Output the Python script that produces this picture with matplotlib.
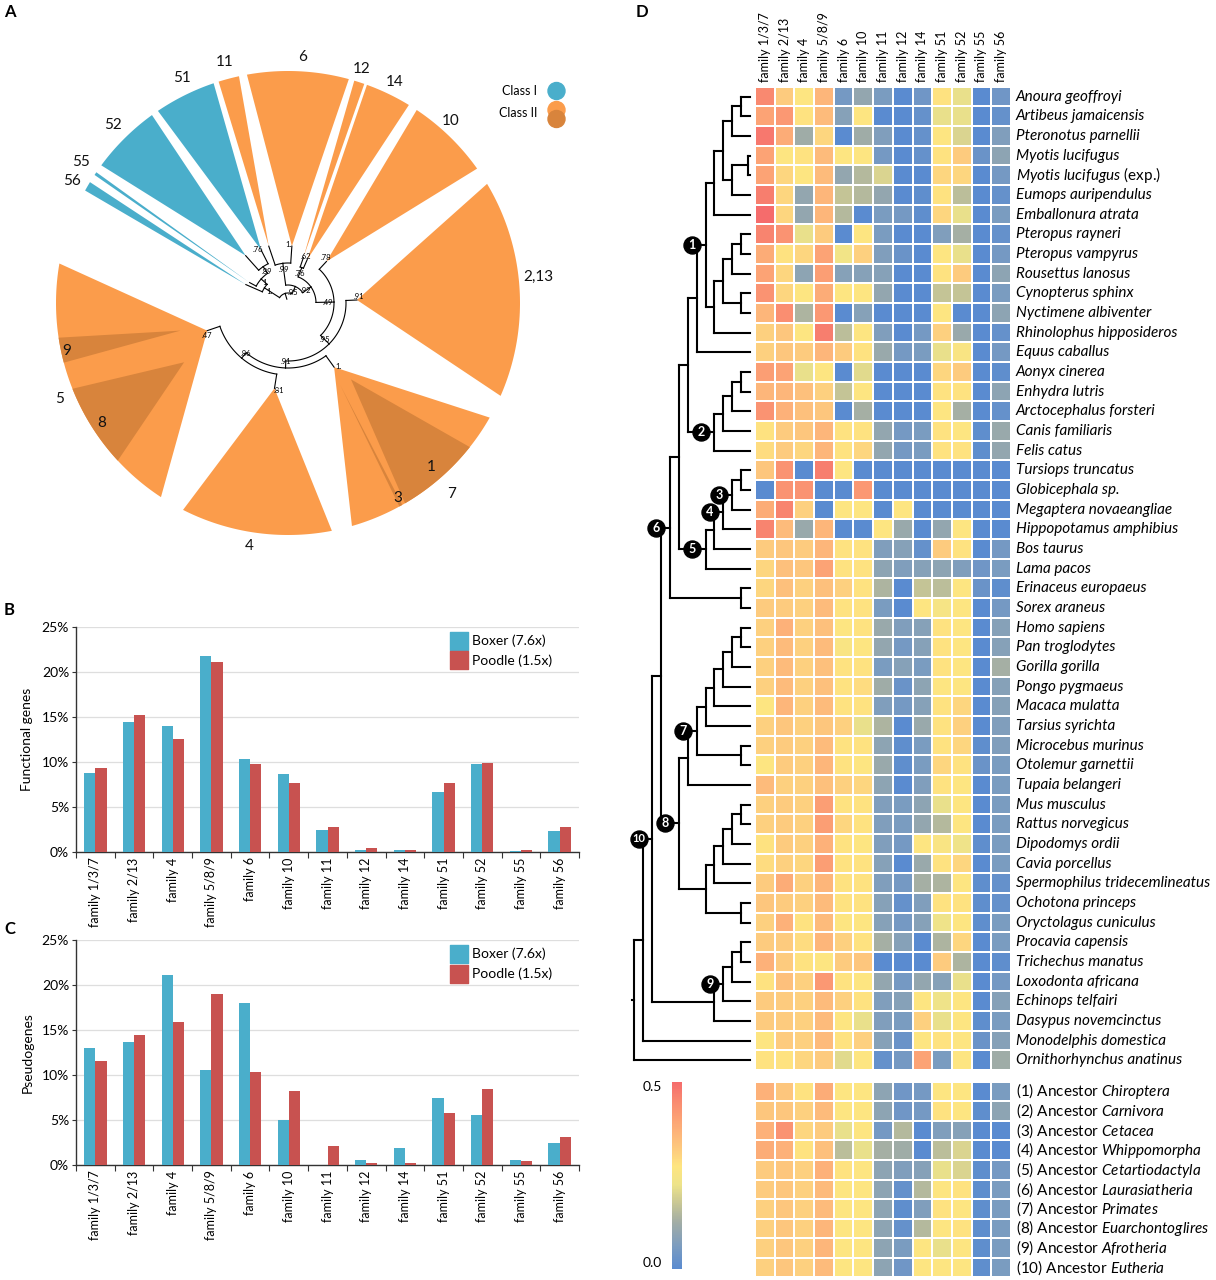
import numpy as np
import matplotlib
matplotlib.use("Agg")
import matplotlib.pyplot as plt
from matplotlib.colors import LinearSegmentedColormap
from matplotlib.patches import Polygon, Circle
from matplotlib.cm import ScalarMappable

plt.rcParams['font.family'] = ['Lato', 'DejaVu Sans']
plt.rcParams['mathtext.fontset'] = 'custom'
plt.rcParams['mathtext.rm'] = 'Lato'
plt.rcParams['mathtext.it'] = 'Lato:italic'

W, H = 1216, 1280

# ---------------- panel A data (wedges of the gene tree) ----------------
wedge_class = ["I", "I", "I", "I", "II", "II", "II", "II", "II", "II", "II", "II", "II"]
wedge_start = [148.6, 145.7, 125.9, 108.7, 102.2, 74.8, 70.8, 58.6, 35.4, -23.6, -74.0, -116.9, 170.2]
wedge_end = [151.0, 146.5, 143.6, 124.1, 107.4, 100.2, 73.4, 70.1, 56.3, 30.9, -29.6, -79.1, 236.8]
apex_angle = [156.4, 152.0, 131.8, 116.9, 108.7, 86.1, 71.3, 66.1, 47.2, 2.5, -54.3, -99.0, -161.1]
apex_radius = [46, 43.5, 63.5, 59.5, 60, 57, 48, 47.5, 56.6, 69, 79, 86.4, 85.4]
tip_support = ["", "", "", ".76", "", "1.", "", ".62", ".78", ".91", "1.", ".81", ".47"]

# darker sub-clades inside the orange wedges
sub_start = [-59.7, -61.3, 201.7, 188.6]
sub_end = [-38.4, -60.5, 222.8, 194.9]
sub_apex_angle = [-50.5, -57.5, 209.7, 194.4]
sub_apex_radius = [99, 97, 119.6, 111]

label_text = ["56", "55", "52", "51", "11", "6", "12", "14", "10", "2,13", "1", "7", "3", "4", "9", "5", "8"]
label_angle = [150.5, 145.8, 134.5, 115.1, 104.8, 86.6, 72.5, 64.2, 48.3, 5.9, -48.9, -49.5, -60.7, -99, 192.2, 202.8, 212.8]
label_radius = [248, 250, 250, 249, 249, 246.6, 245, 246, 244, 252, 218, 251.5, 224, 246, 226, 248, 222]

# inner tree: (radius, support, children), tips are wedge indices
tree_a = (10, "", [(28, "1.", [0, (36, "1.", [1, (44, ".89", [2, 3])])]),
                   (18, ".95", [(40, ".99", [4, 5]),
                                (28, ".92", [(38, ".76", [6, 7]),
                                             (46, ".49", [8, (58, ".95", [9, (65, ".91", [10, (72, ".86", [11, 12])])])])])])])

# ---------------- panels B and C data ----------------
families = ["family 1/3/7", "family 2/13", "family 4", "family 5/8/9", "family 6", "family 10",
            "family 11", "family 12", "family 14", "family 51", "family 52", "family 55", "family 56"]
boxer_functional = [8.8, 14.4, 14.0, 21.7, 10.3, 8.6, 2.4, 0.15, 0.15, 6.6, 9.7, 0.07, 2.3]
poodle_functional = [9.3, 15.2, 12.5, 21.1, 9.8, 7.6, 2.7, 0.4, 0.2, 7.6, 9.85, 0.2, 2.7]
boxer_pseudo = [13.0, 13.7, 21.1, 10.6, 18.0, 5.0, 0.0, 0.6, 1.85, 7.4, 5.6, 0.6, 2.45]
poodle_pseudo = [11.6, 14.45, 15.85, 18.95, 10.35, 8.2, 2.1, 0.22, 0.22, 5.8, 8.4, 0.4, 3.1]

# ---------------- panel D data ----------------
species = ["Anoura geoffroyi", "Artibeus jamaicensis", "Pteronotus parnellii", "Myotis lucifugus",
           "Myotis lucifugus (exp.)", "Eumops auripendulus", "Emballonura atrata", "Pteropus rayneri",
           "Pteropus vampyrus", "Rousettus lanosus", "Cynopterus sphinx", "Nyctimene albiventer",
           "Rhinolophus hipposideros", "Equus caballus", "Aonyx cinerea", "Enhydra lutris",
           "Arctocephalus forsteri", "Canis familiaris", "Felis catus", "Tursiops truncatus",
           "Globicephala sp.", "Megaptera novaeangliae", "Hippopotamus amphibius", "Bos taurus",
           "Lama pacos", "Erinaceus europaeus", "Sorex araneus", "Homo sapiens", "Pan troglodytes",
           "Gorilla gorilla", "Pongo pygmaeus", "Macaca mulatta", "Tarsius syrichta", "Microcebus murinus",
           "Otolemur garnettii", "Tupaia belangeri", "Mus musculus", "Rattus norvegicus", "Dipodomys ordii",
           "Cavia porcellus", "Spermophilus tridecemlineatus", "Ochotona princeps", "Oryctolagus cuniculus",
           "Procavia capensis", "Trichechus manatus", "Loxodonta africana", "Echinops telfairi",
           "Dasypus novemcinctus", "Monodelphis domestica", "Ornithorhynchus anatinus"]

species_values = [
    [0.45, 0.32, 0.27, 0.36, 0.05, 0.10, 0.06, 0.00, 0.04, 0.28, 0.22, 0.00, 0.04],
    [0.40, 0.42, 0.28, 0.35, 0.08, 0.27, 0.00, 0.00, 0.02, 0.22, 0.22, 0.00, 0.02],
    [0.48, 0.38, 0.12, 0.30, 0.00, 0.12, 0.07, 0.00, 0.02, 0.27, 0.20, 0.00, 0.07],
    [0.40, 0.27, 0.28, 0.35, 0.27, 0.27, 0.05, 0.00, 0.02, 0.28, 0.32, 0.03, 0.09],
    [0.40, 0.30, 0.27, 0.35, 0.10, 0.15, 0.20, 0.00, 0.00, 0.30, 0.30, 0.00, 0.05],
    [0.47, 0.30, 0.10, 0.36, 0.17, 0.15, 0.10, 0.00, 0.01, 0.28, 0.16, 0.00, 0.02],
    [0.50, 0.30, 0.10, 0.36, 0.15, 0.00, 0.06, 0.05, 0.01, 0.30, 0.22, 0.00, 0.06],
    [0.46, 0.43, 0.22, 0.32, 0.00, 0.27, 0.06, 0.00, 0.00, 0.07, 0.13, 0.00, 0.02],
    [0.38, 0.28, 0.30, 0.40, 0.24, 0.31, 0.07, 0.03, 0.00, 0.27, 0.22, 0.00, 0.05],
    [0.40, 0.30, 0.09, 0.41, 0.08, 0.08, 0.08, 0.00, 0.00, 0.28, 0.32, 0.00, 0.09],
    [0.43, 0.30, 0.27, 0.38, 0.27, 0.27, 0.10, 0.00, 0.00, 0.17, 0.17, 0.00, 0.06],
    [0.36, 0.44, 0.14, 0.42, 0.00, 0.08, 0.00, 0.00, 0.00, 0.27, 0.00, 0.00, 0.09],
    [0.31, 0.33, 0.27, 0.47, 0.16, 0.27, 0.07, 0.00, 0.05, 0.31, 0.11, 0.00, 0.02],
    [0.31, 0.33, 0.32, 0.36, 0.32, 0.28, 0.11, 0.05, 0.06, 0.22, 0.26, 0.00, 0.05],
    [0.41, 0.40, 0.22, 0.27, 0.00, 0.21, 0.00, 0.00, 0.00, 0.30, 0.32, 0.00, 0.01],
    [0.36, 0.36, 0.34, 0.31, 0.17, 0.27, 0.00, 0.00, 0.00, 0.28, 0.28, 0.00, 0.09],
    [0.43, 0.37, 0.34, 0.33, 0.00, 0.13, 0.00, 0.00, 0.00, 0.27, 0.13, 0.00, 0.02],
    [0.28, 0.32, 0.33, 0.36, 0.28, 0.28, 0.10, 0.05, 0.06, 0.28, 0.27, 0.01, 0.11],
    [0.29, 0.32, 0.30, 0.36, 0.28, 0.30, 0.10, 0.05, 0.06, 0.28, 0.28, 0.01, 0.10],
    [0.33, 0.43, 0.00, 0.47, 0.27, 0.00, 0.00, 0.00, 0.00, 0.00, 0.00, 0.00, 0.00],
    [0.00, 0.43, 0.43, 0.00, 0.00, 0.42, 0.00, 0.00, 0.00, 0.00, 0.00, 0.00, 0.00],
    [0.38, 0.46, 0.31, 0.00, 0.27, 0.27, 0.00, 0.27, 0.00, 0.00, 0.00, 0.00, 0.00],
    [0.46, 0.35, 0.11, 0.36, 0.00, 0.00, 0.27, 0.11, 0.00, 0.10, 0.27, 0.00, 0.00],
    [0.32, 0.33, 0.32, 0.36, 0.28, 0.28, 0.07, 0.08, 0.02, 0.32, 0.28, 0.00, 0.05],
    [0.30, 0.34, 0.33, 0.40, 0.28, 0.28, 0.09, 0.07, 0.08, 0.09, 0.07, 0.04, 0.06],
    [0.30, 0.34, 0.31, 0.34, 0.31, 0.28, 0.14, 0.00, 0.17, 0.16, 0.27, 0.03, 0.01],
    [0.32, 0.32, 0.31, 0.35, 0.28, 0.28, 0.06, 0.00, 0.27, 0.25, 0.27, 0.00, 0.05],
    [0.31, 0.37, 0.31, 0.34, 0.27, 0.28, 0.11, 0.07, 0.08, 0.28, 0.27, 0.00, 0.08],
    [0.31, 0.35, 0.31, 0.35, 0.26, 0.27, 0.10, 0.05, 0.08, 0.28, 0.27, 0.00, 0.08],
    [0.31, 0.35, 0.31, 0.34, 0.28, 0.28, 0.06, 0.08, 0.06, 0.28, 0.27, 0.00, 0.13],
    [0.31, 0.35, 0.31, 0.34, 0.28, 0.29, 0.12, 0.03, 0.09, 0.27, 0.27, 0.00, 0.08],
    [0.27, 0.36, 0.31, 0.35, 0.28, 0.28, 0.07, 0.05, 0.08, 0.28, 0.30, 0.00, 0.08],
    [0.31, 0.33, 0.31, 0.33, 0.31, 0.22, 0.14, 0.00, 0.11, 0.28, 0.31, 0.00, 0.07],
    [0.31, 0.32, 0.31, 0.35, 0.28, 0.28, 0.09, 0.01, 0.06, 0.28, 0.30, 0.01, 0.07],
    [0.27, 0.32, 0.31, 0.36, 0.28, 0.27, 0.11, 0.01, 0.06, 0.30, 0.28, 0.03, 0.06],
    [0.35, 0.31, 0.31, 0.34, 0.31, 0.30, 0.09, 0.00, 0.07, 0.28, 0.27, 0.00, 0.06],
    [0.31, 0.32, 0.31, 0.41, 0.28, 0.28, 0.07, 0.06, 0.09, 0.22, 0.27, 0.00, 0.06],
    [0.31, 0.32, 0.31, 0.41, 0.30, 0.28, 0.07, 0.06, 0.10, 0.15, 0.27, 0.00, 0.06],
    [0.28, 0.32, 0.31, 0.37, 0.28, 0.27, 0.07, 0.05, 0.27, 0.26, 0.23, 0.01, 0.06],
    [0.29, 0.31, 0.30, 0.41, 0.28, 0.28, 0.08, 0.00, 0.11, 0.28, 0.30, 0.00, 0.06],
    [0.32, 0.38, 0.31, 0.36, 0.28, 0.28, 0.07, 0.05, 0.13, 0.14, 0.27, 0.01, 0.02],
    [0.33, 0.32, 0.31, 0.35, 0.28, 0.28, 0.08, 0.02, 0.07, 0.28, 0.28, 0.01, 0.02],
    [0.31, 0.37, 0.28, 0.35, 0.27, 0.27, 0.08, 0.05, 0.08, 0.23, 0.27, 0.01, 0.06],
    [0.32, 0.32, 0.29, 0.36, 0.31, 0.28, 0.13, 0.08, 0.00, 0.14, 0.30, 0.00, 0.06],
    [0.37, 0.32, 0.28, 0.27, 0.32, 0.33, 0.00, 0.00, 0.00, 0.32, 0.14, 0.00, 0.01],
    [0.28, 0.34, 0.31, 0.42, 0.28, 0.27, 0.10, 0.05, 0.10, 0.08, 0.22, 0.00, 0.05],
    [0.32, 0.32, 0.31, 0.35, 0.31, 0.28, 0.07, 0.08, 0.27, 0.23, 0.27, 0.00, 0.08],
    [0.32, 0.32, 0.31, 0.35, 0.27, 0.22, 0.07, 0.06, 0.31, 0.22, 0.27, 0.01, 0.06],
    [0.27, 0.32, 0.31, 0.35, 0.28, 0.31, 0.08, 0.03, 0.27, 0.28, 0.27, 0.03, 0.08],
    [0.28, 0.28, 0.30, 0.32, 0.21, 0.27, 0.02, 0.05, 0.40, 0.06, 0.27, 0.00, 0.12],
]

ancestors = ["Chiroptera", "Carnivora", "Cetacea", "Whippomorpha", "Cetartiodactyla",
             "Laurasiatheria", "Primates", "Euarchontoglires", "Afrotheria", "Eutheria"]
ancestor_values = [
    [0.37, 0.33, 0.28, 0.38, 0.27, 0.27, 0.09, 0.04, 0.05, 0.27, 0.27, 0.00, 0.06],
    [0.33, 0.33, 0.31, 0.35, 0.27, 0.27, 0.09, 0.04, 0.05, 0.28, 0.27, 0.01, 0.09],
    [0.37, 0.43, 0.30, 0.32, 0.22, 0.27, 0.05, 0.15, 0.00, 0.07, 0.08, 0.00, 0.00],
    [0.38, 0.37, 0.28, 0.34, 0.16, 0.22, 0.13, 0.12, 0.00, 0.16, 0.20, 0.00, 0.00],
    [0.32, 0.33, 0.31, 0.37, 0.28, 0.27, 0.09, 0.07, 0.08, 0.22, 0.20, 0.01, 0.05],
    [0.32, 0.33, 0.31, 0.35, 0.27, 0.27, 0.09, 0.02, 0.15, 0.27, 0.28, 0.01, 0.06],
    [0.31, 0.33, 0.31, 0.35, 0.27, 0.27, 0.09, 0.01, 0.07, 0.28, 0.27, 0.01, 0.06],
    [0.31, 0.33, 0.31, 0.36, 0.27, 0.27, 0.09, 0.02, 0.15, 0.27, 0.28, 0.01, 0.06],
    [0.31, 0.33, 0.31, 0.36, 0.27, 0.27, 0.09, 0.06, 0.27, 0.22, 0.27, 0.01, 0.06],
    [0.31, 0.33, 0.31, 0.35, 0.27, 0.27, 0.09, 0.04, 0.27, 0.27, 0.27, 0.01, 0.06],
]

# species tree: (level, left, right[, ancestor number])
yango = (4, (3, (2, (1, "Anoura geoffroyi", "Artibeus jamaicensis"), "Pteronotus parnellii"),
             (2, (0.2, "Myotis lucifugus", "Myotis lucifugus (exp.)"), "Eumops auripendulus")),
         "Emballonura atrata")
yinpter = (4, (3, (2, (1, "Pteropus rayneri", "Pteropus vampyrus"), "Rousettus lanosus"),
               (1, "Cynopterus sphinx", "Nyctimene albiventer")), "Rhinolophus hipposideros")
chiroptera = (5, yango, yinpter, 1)
carnivora = (4, (3, (2, (1, "Aonyx cinerea", "Enhydra lutris"), "Arctocephalus forsteri"),
                 "Canis familiaris"), "Felis catus", 2)
cetacea = (2, (1, "Tursiops truncatus", "Globicephala sp."), "Megaptera novaeangliae", 3)
whippo = (3, cetacea, "Hippopotamus amphibius", 4)
cetart = (5, (4, whippo, "Bos taurus"), "Lama pacos", 5)
scrot = (8, (7, (6, chiroptera, "Equus caballus"), carnivora), cetart)
laura = (9, scrot, (1, "Erinaceus europaeus", "Sorex araneus"), 6)
primates = (6, (5, (4, (3, (2, (1, "Homo sapiens", "Pan troglodytes"), "Gorilla gorilla"),
                        "Pongo pygmaeus"), "Macaca mulatta"), "Tarsius syrichta"),
            (1, "Microcebus murinus", "Otolemur garnettii"), 7)
glires = (5, (4, (3, (2, (1, "Mus musculus", "Rattus norvegicus"), "Dipodomys ordii"),
                  "Cavia porcellus"), "Spermophilus tridecemlineatus"),
          (1, "Ochotona princeps", "Oryctolagus cuniculus"))
euarch = (8, (7, primates, "Tupaia belangeri"), glires, 8)
afro = (3, (2, (1, "Procavia capensis", "Trichechus manatus"), "Loxodonta africana"), "Echinops telfairi", 9)
eutheria = (11, (10, laura, euarch), (4, afro, "Dasypus novemcinctus"), 10)
tree_d = (13, (12, eutheria, "Monodelphis domestica"), "Ornithorhynchus anatinus")

blue = "#4AAECB"
orange = "#FB9C4B"
dark_orange = "#D8843C"
red = "#C85250"

fig = plt.figure(figsize=(W / 100, H / 100), dpi=100)


def px_axes(x0, y0, x1, y1):
    return fig.add_axes([x0 / W, 1 - y1 / H, (x1 - x0) / W, (y1 - y0) / H])


# ================= A =================
CX, CY, R = 288, 303, 232
axA = px_axes(0, 0, 600, 600)
axA.set_xlim(0, 600)
axA.set_ylim(600, 0)
axA.axis('off')


def pxy(theta, r):
    t = np.radians(theta)
    return CX + r * np.cos(t), CY - r * np.sin(t)


def wedge(theta1, theta2, a_ang, a_rad, color):
    ts = np.linspace(theta1, theta2, 60)
    xs, ys = pxy(ts, R)
    ax0, ay0 = pxy(a_ang, a_rad)
    pts = [(ax0, ay0)] + list(zip(xs, ys))
    axA.add_patch(Polygon(pts, closed=True, facecolor=color, edgecolor='none'))


for i in range(len(wedge_start)):
    c = blue if wedge_class[i] == "I" else orange
    wedge(wedge_start[i], wedge_end[i], apex_angle[i], apex_radius[i], c)
for i in range(len(sub_start)):
    wedge(sub_start[i], sub_end[i], sub_apex_angle[i], sub_apex_radius[i], dark_orange)

for txt, a, r in zip(label_text, label_angle, label_radius):
    x, y = pxy(a, r)
    axA.text(x, y, txt, fontsize=11, ha='center', va='center', color='#111111')


def draw_tree_a(node):
    if isinstance(node, int):
        if tip_support[node]:
            x, y = pxy(apex_angle[node] + 3, apex_radius[node] + 2)
            axA.text(x, y, tip_support[node], fontsize=5.5, ha='center', va='center')
        return apex_angle[node], apex_radius[node]
    r, sup, kids = node
    pos = [draw_tree_a(k) for k in kids]
    th = np.mean([p[0] for p in pos])
    for tc, rc in pos:
        ts = np.linspace(th, tc, 40)
        xs, ys = pxy(ts, r)
        axA.plot(xs, ys, color='black', lw=0.8)
        x0, y0 = pxy(tc, r)
        x1, y1 = pxy(tc, rc)
        axA.plot([x0, x1], [y0, y1], color='black', lw=0.8)
    if sup:
        x, y = pxy(th, r - 6)
        axA.text(x, y, sup, fontsize=5.5, ha='center', va='center')
    return th, r


root_th, root_r = draw_tree_a(tree_a)
x0, y0 = pxy(root_th, root_r)
x1, y1 = pxy(root_th, 4)
axA.plot([x0, x1], [y0, y1], color='black', lw=0.8)

# legend
axA.add_patch(Circle((556.5, 91), 8.5, color=blue))
axA.add_patch(Circle((556.5, 110), 8.5, color=orange))
axA.add_patch(Circle((556.5, 119), 8.5, color=dark_orange))
axA.text(537, 91, "Class I", fontsize=9, ha='right', va='center')
axA.text(537, 113, "Class II", fontsize=9, ha='right', va='center')


# ================= B / C =================
def bar_panel(y_top, y_bot, boxer, poodle, ylabel):
    ax = px_axes(76, y_top, 579, y_bot)
    x = np.arange(len(families))
    ax.bar(x - 0.145, boxer, width=0.29, color=blue, zorder=3)
    ax.bar(x + 0.145, poodle, width=0.29, color=red, zorder=3)
    ax.set_xlim(-0.5, len(families) - 0.5)
    ax.set_ylim(0, 25)
    ax.set_yticks([0, 5, 10, 15, 20, 25])
    ax.set_yticklabels(["%d%%" % v for v in [0, 5, 10, 15, 20, 25]], fontsize=10)
    ax.yaxis.grid(True, color='#DEDEDE', lw=0.9, zorder=0)
    ax.set_xticks(np.arange(len(families) + 1) - 0.5)
    ax.set_xticklabels([])
    ax.set_xticks(x, minor=True)
    ax.set_xticklabels(families, minor=True, rotation=90, fontsize=9)
    ax.tick_params(axis='x', which='minor', length=0, pad=4)
    ax.tick_params(axis='x', which='major', length=4, width=0.8, color='#333333')
    ax.tick_params(axis='y', length=3, width=0.8, color='#333333', pad=2)
    for s in ['top', 'right']:
        ax.spines[s].set_visible(False)
    for s in ['left', 'bottom']:
        ax.spines[s].set_color('#333333')
        ax.spines[s].set_linewidth(1.0)
    ax.set_ylabel(ylabel, fontsize=10, labelpad=6)
    # legend
    for k, (c, lab) in enumerate([(blue, "Boxer (7.6x)"), (red, "Poodle (1.5x)")]):
        yy = 0.938 - k * 0.088
        ax.scatter([0.761], [yy], s=150, marker='s', color=c, transform=ax.transAxes,
                   clip_on=False, zorder=5)
        ax.text(0.787, yy, lab, transform=ax.transAxes, fontsize=10, va='center', ha='left')
    return ax


bar_panel(626.7, 851.7, boxer_functional, poodle_functional, "Functional genes")
bar_panel(940, 1165, boxer_pseudo, poodle_pseudo, "Pseudogenes")

# ================= D =================
cmap = LinearSegmentedColormap.from_list("ratio", [
    (0.00, "#5A8BD0"), (0.12, "#7B9CC0"), (0.25, "#A2ADA5"), (0.35, "#C7C695"),
    (0.45, "#EDE38A"), (0.55, "#FEE580"), (0.62, "#FDD07F"), (0.70, "#FDBB7B"),
    (0.80, "#FCA375"), (0.90, "#F98A70"), (1.00, "#F56C6C")])

n_sp = len(species)
axH = px_axes(755, 86.7, 1011, 1070)
axH.pcolormesh(np.array(species_values), cmap=cmap, vmin=0, vmax=0.5,
               edgecolors='white', linewidth=1.1)
axH.set_xlim(0, len(families))
axH.set_ylim(n_sp, 0)
axH.axis('off')
for j, fam in enumerate(families):
    axH.text(j + 0.5, -0.25, fam, rotation=90, ha='center', va='bottom', fontsize=9)
for i, sp in enumerate(species):
    if sp.endswith("(exp.)"):
        axH.text(13.25, i + 0.5, r"$\mathit{Myotis\ lucifugus}$ (exp.)", fontsize=11, va='center', ha='left')
    else:
        axH.text(13.25, i + 0.5, sp, fontsize=11, fontstyle='italic', va='center', ha='left')

axN = px_axes(755, 1081.7, 1011, 1277.3)
axN.pcolormesh(np.array(ancestor_values), cmap=cmap, vmin=0, vmax=0.5,
               edgecolors='white', linewidth=1.1)
axN.set_xlim(0, len(families))
axN.set_ylim(len(ancestors), 0)
axN.axis('off')
for i, name in enumerate(ancestors):
    axN.text(13.25, i + 0.5, r"(%d) Ancestor $\mathit{%s}$" % (i + 1, name), fontsize=11,
             va='center', ha='left')

# colour bar
axC = px_axes(672, 1082, 682, 1269)
cb = fig.colorbar(ScalarMappable(cmap=cmap, norm=plt.Normalize(0, 0.5)), cax=axC)
cb.outline.set_visible(False)
cb.set_ticks([0.018, 0.488])
cb.set_ticklabels(["0.0", "0.5"])
axC.yaxis.set_ticks_position('left')
axC.tick_params(length=0, labelsize=10, pad=7)

# dendrogram
STEP = 8.9
axT = px_axes(625, 86.7, 755, 1070)
axT.set_xlim((750 - 625) / STEP, -5 / STEP)
axT.set_ylim(n_sp, 0)
axT.axis('off')
marks = []


def draw_clade(node):
    if isinstance(node, str):
        return species.index(node) + 0.5, 0.0
    level, left, right = node[:3]
    ys = []
    for child in (left, right):
        yc, lc = draw_clade(child)
        axT.plot([level, lc], [yc, yc], color='black', lw=1.5)
        ys.append(yc)
    axT.plot([level, level], ys, color='black', lw=1.5)
    y = sum(ys) / 2
    if len(node) > 3:
        marks.append((level, y, node[3]))
    return y, level


ry, rl = draw_clade(tree_d)
axT.plot([rl, rl + 0.3], [ry, ry], color='black', lw=1.5)
for level, y, num in marks:
    xm = level + 13.5 / STEP
    axT.scatter([xm], [y], s=150, color='black', zorder=5)
    axT.text(xm, y, str(num), color='white', fontsize=9 if num < 10 else 8, fontweight='bold',
             ha='center', va='center', zorder=6)

# panel letters
for letter, (x, y) in {"A": (4, 4), "B": (4, 602), "C": (4, 921), "D": (636, 4)}.items():
    fig.text(x / W, 1 - y / H, letter, fontsize=12, fontweight='bold', va='top', ha='left')

fig.savefig("out.png", dpi=100)
